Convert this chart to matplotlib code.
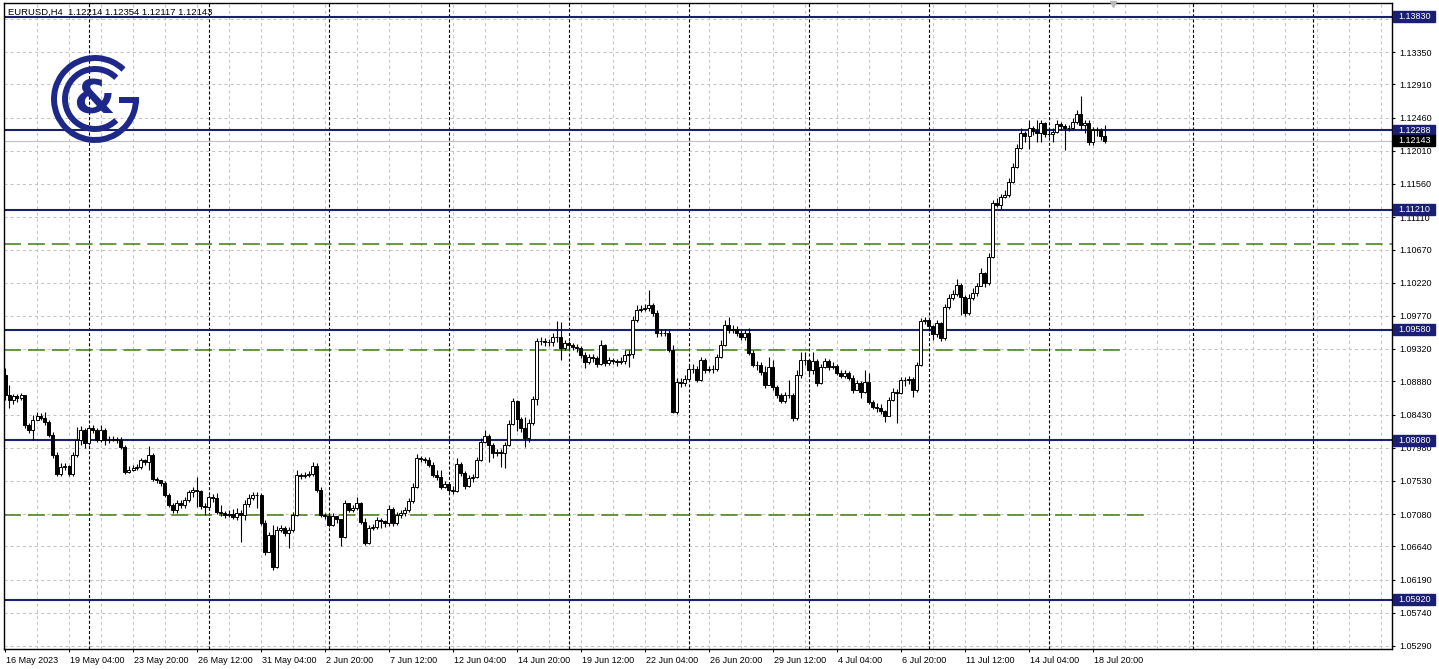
import matplotlib.pyplot as plt
from matplotlib.patches import Arc, Rectangle
import numpy as np

plt.rcParams['font.family'] = ['Liberation Sans', 'DejaVu Sans']
plt.rcParams['lines.scale_dashes'] = False

# EURUSD H4 candles, 16 May - 19 Jul 2023
symbol = "EURUSD,H4"
first_open = 1.0897
last_ohlc = (1.12214, 1.12354, 1.12117, 1.12143)

closes = [
    1.0870, 1.0863, 1.0868, 1.0866, 1.0870, 1.0829, 1.0822, 1.0836, 1.0841, 1.0838,
    1.0833, 1.0815, 1.0788, 1.0762, 1.0772, 1.0773, 1.0762, 1.0788, 1.0809, 1.0822,
    1.0804, 1.0825, 1.0822, 1.0809, 1.0822, 1.0809, 1.0809, 1.0810, 1.0809, 1.0799,
    1.0765, 1.0768, 1.0771, 1.0772, 1.0781, 1.0779, 1.0788, 1.0756, 1.0754, 1.0750,
    1.0734, 1.0720, 1.0714, 1.0723, 1.0720, 1.0727, 1.0738, 1.0741, 1.0739, 1.0719,
    1.0718, 1.0731, 1.0730, 1.0711, 1.0710, 1.0707, 1.0708, 1.0704, 1.0710, 1.0707,
    1.0722, 1.0730, 1.0734, 1.0734, 1.0696, 1.0657, 1.0680, 1.0636, 1.0686, 1.0689,
    1.0682, 1.0686, 1.0707, 1.0761, 1.0760, 1.0761, 1.0762, 1.0773, 1.0741, 1.0707,
    1.0705, 1.0693, 1.0705, 1.0701, 1.0677, 1.0723, 1.0714, 1.0716, 1.0723, 1.0697,
    1.0669, 1.0689, 1.0690, 1.0700, 1.0699, 1.0696, 1.0715, 1.0696, 1.0707, 1.0710,
    1.0714, 1.0726, 1.0745, 1.0784, 1.0783, 1.0781, 1.0775, 1.0761, 1.0758, 1.0745,
    1.0749, 1.0741, 1.0739, 1.0776, 1.0764, 1.0746, 1.0757, 1.0758, 1.0781, 1.0806,
    1.0814, 1.0802, 1.0791, 1.0792, 1.0791, 1.0802, 1.0830, 1.0861, 1.0837, 1.0825,
    1.0811, 1.0832, 1.0864, 1.0943, 1.0943, 1.0941, 1.0941, 1.0948, 1.0948, 1.0933,
    1.0940, 1.0937, 1.0935, 1.0933, 1.0924, 1.0914, 1.0921, 1.0920, 1.0912, 1.0937,
    1.0913, 1.0917, 1.0916, 1.0914, 1.0916, 1.0924, 1.0925, 1.0971, 1.0985, 1.0986,
    1.0988, 1.0992, 1.0981, 1.0954, 1.0954, 1.0954, 1.0931, 1.0846, 1.0887, 1.0886,
    1.0891, 1.0905, 1.0905, 1.0890, 1.0917, 1.0904, 1.0905, 1.0905, 1.0921, 1.0937,
    1.0965, 1.0958, 1.0959, 1.0954, 1.0948, 1.0954, 1.0927, 1.0910, 1.0910, 1.0901,
    1.0883, 1.0908, 1.0880, 1.0870, 1.0861, 1.0870, 1.0870, 1.0838, 1.0897, 1.0917,
    1.0917, 1.0903, 1.0916, 1.0886, 1.0908, 1.0916, 1.0908, 1.0909, 1.0899, 1.0895,
    1.0899, 1.0893, 1.0876, 1.0886, 1.0874, 1.0887, 1.0860, 1.0853, 1.0852, 1.0848,
    1.0841, 1.0863, 1.0874, 1.0872, 1.0890, 1.0890, 1.0891, 1.0876, 1.0910, 1.0970,
    1.0971, 1.0963, 1.0952, 1.0967, 1.0947, 1.0989, 1.1001, 1.1007, 1.1019, 1.1003,
    1.0981, 1.1001, 1.1008, 1.1018, 1.1035, 1.1022, 1.1057, 1.1130, 1.1127, 1.1138,
    1.1141, 1.1159, 1.1179, 1.1205, 1.1225, 1.1221, 1.1232, 1.1228, 1.1225, 1.1239,
    1.1224, 1.1224, 1.1227, 1.1237, 1.1235, 1.1232, 1.1232, 1.1240, 1.1251, 1.1236,
    1.1239, 1.1213, 1.1229, 1.1229, 1.1221, 1.12143,
]
highs = [
    1.0906, 1.0883, 1.0871, 1.0871, 1.0872, 1.0866, 1.0832, 1.0842, 1.0847, 1.0845,
    1.0847, 1.0836, 1.0819, 1.0792, 1.0777, 1.0777, 1.0775, 1.0792, 1.0826, 1.0828,
    1.0825, 1.0829, 1.0829, 1.0825, 1.0829, 1.0825, 1.0814, 1.0814, 1.0813, 1.0813,
    1.0802, 1.0773, 1.0775, 1.0776, 1.0784, 1.0783, 1.0800, 1.0791, 1.0758, 1.0754,
    1.0753, 1.0737, 1.0723, 1.0727, 1.0727, 1.0731, 1.0741, 1.0745, 1.0758, 1.0741,
    1.0723, 1.0734, 1.0735, 1.0737, 1.0720, 1.0712, 1.0714, 1.0715, 1.0716, 1.0714,
    1.0727, 1.0735, 1.0738, 1.0738, 1.0737, 1.0700, 1.0684, 1.0693, 1.0692, 1.0693,
    1.0692, 1.0691, 1.0711, 1.0768, 1.0764, 1.0765, 1.0766, 1.0779, 1.0777, 1.0745,
    1.0710, 1.0708, 1.0710, 1.0705, 1.0700, 1.0727, 1.0719, 1.0720, 1.0731, 1.0724,
    1.0703, 1.0693, 1.0695, 1.0704, 1.0703, 1.0700, 1.0720, 1.0718, 1.0711, 1.0714,
    1.0718, 1.0730, 1.0750, 1.0790, 1.0787, 1.0785, 1.0785, 1.0779, 1.0768, 1.0768,
    1.0753, 1.0749, 1.0746, 1.0784, 1.0779, 1.0767, 1.0761, 1.0762, 1.0785, 1.0811,
    1.0822, 1.0817, 1.0804, 1.0796, 1.0796, 1.0806, 1.0836, 1.0866, 1.0863, 1.0840,
    1.0840, 1.0837, 1.0868, 1.0947, 1.0948, 1.0947, 1.0946, 1.0954, 1.0970, 1.0969,
    1.0944, 1.0943, 1.0940, 1.0939, 1.0936, 1.0928, 1.0925, 1.0925, 1.0923, 1.0944,
    1.0939, 1.0921, 1.0920, 1.0918, 1.0921, 1.0931, 1.0931, 1.0977, 1.0992, 1.0992,
    1.0993, 1.1012, 1.0994, 1.0985, 1.0959, 1.0959, 1.0958, 1.0937, 1.0893, 1.0893,
    1.0897, 1.0910, 1.0912, 1.0909, 1.0921, 1.0920, 1.0909, 1.0910, 1.0925, 1.0944,
    1.0971, 1.0975, 1.0965, 1.0963, 1.0958, 1.0958, 1.0961, 1.0931, 1.0916, 1.0914,
    1.0909, 1.0921, 1.0917, 1.0883, 1.0872, 1.0874, 1.0890, 1.0872, 1.0903, 1.0928,
    1.0928, 1.0908, 1.0928, 1.0918, 1.0912, 1.0920, 1.0918, 1.0914, 1.0912, 1.0903,
    1.0903, 1.0902, 1.0897, 1.0890, 1.0889, 1.0903, 1.0899, 1.0863, 1.0859, 1.0857,
    1.0849, 1.0867, 1.0879, 1.0878, 1.0894, 1.0894, 1.0895, 1.0894, 1.0914, 1.0974,
    1.0975, 1.0967, 1.0965, 1.0971, 1.0969, 1.0993, 1.1007, 1.1012, 1.1027, 1.1022,
    1.1005, 1.1007, 1.1015, 1.1022, 1.1042, 1.1037, 1.1062, 1.1134, 1.1137, 1.1142,
    1.1148, 1.1164, 1.1184, 1.1210, 1.1232, 1.1228, 1.1243, 1.1235, 1.1243, 1.1243,
    1.1240, 1.1232, 1.1232, 1.1243, 1.1240, 1.1237, 1.1236, 1.1246, 1.1256, 1.1275,
    1.1243, 1.1243, 1.1233, 1.1233, 1.1232, 1.12354,
]
lows = [
    1.0863, 1.0852, 1.0857, 1.0860, 1.0863, 1.0825, 1.0818, 1.0809, 1.0836, 1.0836,
    1.0829, 1.0813, 1.0784, 1.0760, 1.0760, 1.0768, 1.0760, 1.0760, 1.0785, 1.0802,
    1.0798, 1.0802, 1.0818, 1.0806, 1.0806, 1.0802, 1.0804, 1.0807, 1.0804, 1.0796,
    1.0762, 1.0764, 1.0767, 1.0768, 1.0769, 1.0775, 1.0768, 1.0753, 1.0750, 1.0746,
    1.0731, 1.0718, 1.0709, 1.0709, 1.0716, 1.0716, 1.0724, 1.0731, 1.0718, 1.0715,
    1.0707, 1.0714, 1.0724, 1.0708, 1.0705, 1.0703, 1.0704, 1.0701, 1.0700, 1.0670,
    1.0700, 1.0718, 1.0727, 1.0716, 1.0693, 1.0653, 1.0657, 1.0632, 1.0635, 1.0684,
    1.0678, 1.0662, 1.0684, 1.0705, 1.0756, 1.0757, 1.0758, 1.0760, 1.0738, 1.0704,
    1.0701, 1.0690, 1.0692, 1.0696, 1.0665, 1.0676, 1.0711, 1.0711, 1.0714, 1.0695,
    1.0666, 1.0667, 1.0686, 1.0688, 1.0689, 1.0690, 1.0692, 1.0692, 1.0693, 1.0703,
    1.0705, 1.0711, 1.0723, 1.0743, 1.0779, 1.0777, 1.0772, 1.0758, 1.0754, 1.0742,
    1.0743, 1.0738, 1.0735, 1.0738, 1.0760, 1.0742, 1.0745, 1.0752, 1.0757, 1.0780,
    1.0804, 1.0779, 1.0784, 1.0787, 1.0772, 1.0771, 1.0800, 1.0829, 1.0821, 1.0819,
    1.0799, 1.0806, 1.0829, 1.0856, 1.0937, 1.0936, 1.0936, 1.0936, 1.0941, 1.0917,
    1.0931, 1.0932, 1.0931, 1.0928, 1.0920, 1.0906, 1.0912, 1.0914, 1.0908, 1.0910,
    1.0909, 1.0910, 1.0912, 1.0909, 1.0912, 1.0912, 1.0908, 1.0920, 1.0969, 1.0982,
    1.0984, 1.0984, 1.0977, 1.0948, 1.0950, 1.0950, 1.0928, 1.0845, 1.0844, 1.0880,
    1.0882, 1.0895, 1.0899, 1.0887, 1.0889, 1.0899, 1.0901, 1.0899, 1.0902, 1.0920,
    1.0936, 1.0954, 1.0954, 1.0950, 1.0944, 1.0944, 1.0924, 1.0908, 1.0904, 1.0897,
    1.0879, 1.0893, 1.0876, 1.0866, 1.0859, 1.0859, 1.0866, 1.0834, 1.0836, 1.0893,
    1.0910, 1.0898, 1.0898, 1.0882, 1.0885, 1.0906, 1.0903, 1.0905, 1.0897, 1.0893,
    1.0893, 1.0890, 1.0872, 1.0876, 1.0866, 1.0872, 1.0857, 1.0851, 1.0847, 1.0844,
    1.0833, 1.0841, 1.0861, 1.0832, 1.0871, 1.0882, 1.0885, 1.0867, 1.0874, 1.0909,
    1.0966, 1.0956, 1.0944, 1.0948, 1.0943, 1.0944, 1.0986, 1.0999, 1.1004, 1.0978,
    1.0977, 1.0978, 1.0999, 1.1004, 1.1018, 1.1016, 1.1019, 1.1055, 1.1125, 1.1122,
    1.1137, 1.1138, 1.1157, 1.1178, 1.1203, 1.1213, 1.1203, 1.1222, 1.1213, 1.1213,
    1.1220, 1.1220, 1.1213, 1.1225, 1.1229, 1.1202, 1.1228, 1.1229, 1.1237, 1.1229,
    1.1225, 1.1209, 1.1209, 1.1221, 1.1216, 1.12117,
]

x_labels = ["16 May 2023", "19 May 04:00", "23 May 20:00", "26 May 12:00",
            "31 May 04:00", "2 Jun 20:00", "7 Jun 12:00", "12 Jun 04:00",
            "14 Jun 20:00", "19 Jun 12:00", "22 Jun 04:00", "26 Jun 20:00",
            "29 Jun 12:00", "4 Jul 04:00", "6 Jul 20:00", "11 Jul 12:00",
            "14 Jul 04:00", "18 Jul 20:00"]
y_grid = [1.13800, 1.13350, 1.12910, 1.12460, 1.12010, 1.11560, 1.11110, 1.10670,
          1.10220, 1.09770, 1.09320, 1.08880, 1.08430, 1.07980, 1.07530,
          1.07080, 1.06640, 1.06190, 1.05740, 1.05290]
y_ticks = y_grid[1:]                   # 1.13800 label sits under the level box
levels = [1.13830, 1.12288, 1.11210, 1.09580, 1.08080, 1.05920]
dashed_levels = [1.10745, 1.09307, 1.07068]
dashed_ends = [347, 279, 285]          # bar where each green line stops
week_starts = [21, 51, 81, 111, 141, 171, 201, 231, 261, 297, 327]

NAVY = '#1a1f71'
LOGO = '#1e2888'
GREEN = '#3f7d12'
GRID = '#c4c4c4'

c = np.array(closes)
o = np.r_[first_open, c[:-1]]
o[-1] = last_ohlc[0]
h = np.maximum.reduce([np.array(highs), o, c])
l = np.minimum.reduce([np.array(lows), o, c])
idx = np.arange(len(c))

W, H = 1439, 669
fig = plt.figure(figsize=(W / 100, H / 100), dpi=100)
ax = fig.add_axes([4 / W, 1 - 649 / H, 1388 / W, 646 / H])
ax.set_xlim(-0.25, 346.75)
ax.set_ylim(1.05249, 1.14015)

# grid + week separators
for k in np.arange(8, 347, 8):
    ax.axvline(k, color=GRID, lw=0.75, ls=(0, (2.2, 2.2)), zorder=0)
for y in y_grid:
    ax.axhline(y, color=GRID, lw=0.75, ls=(0, (2.2, 2.2)), zorder=0)
for k in week_starts:
    ax.axvline(k, color='black', lw=0.8, ls=(0, (2.2, 1.5)), zorder=1)

# support/resistance levels
for lv, end in zip(dashed_levels, dashed_ends):
    ax.hlines(lv, -0.25, end, color=GREEN, lw=1.1, ls=(0, (12.2, 5)), zorder=2)
for lv in levels:
    ax.axhline(lv, color=NAVY, lw=1.5, zorder=2)
ax.axhline(last_ohlc[3], color='#c0c0c0', lw=0.8, zorder=1.5)

# candles
ax.vlines(idx, l, h, color='black', lw=0.8, zorder=3)
up = c >= o
ax.bar(idx, np.abs(c - o), bottom=np.minimum(o, c), width=0.75,
       color=np.where(up, 'white', 'black'), edgecolor='black', linewidth=0.7, zorder=4)

# axes styling
for s in ax.spines.values():
    s.set_color('black')
    s.set_linewidth(1.0)
ax.yaxis.tick_right()
ax.set_yticks(y_ticks)
ax.set_yticklabels([f"{v:.5f}" for v in y_ticks])
ax.tick_params(axis='y', length=2.5, pad=2.5, labelsize=6.5, width=0.8)
ax.set_xticks(np.arange(0, 16 * len(x_labels), 16))
ax.set_xticklabels([])
ax.tick_params(axis='x', length=2.5, width=0.8)
for j, lab in enumerate(x_labels):
    ax.text(16 * j + 0.2, -0.0175, lab, transform=ax.get_xaxis_transform(),
            ha='left', va='center', fontsize=6.5)

# price boxes on the right scale
bx = ax.get_yaxis_transform()
half = 5.5 / 7370
for lv, fc in [(lv, NAVY) for lv in levels] + [(last_ohlc[3], 'black')]:
    ax.add_patch(Rectangle((1.0006, lv - half), 0.0303, 2 * half, transform=bx,
                           facecolor=fc, edgecolor=fc, clip_on=False, zorder=6))
    ax.text(1.0046, lv, f"{lv:.5f}", transform=bx, color='white', fontsize=6.5,
            ha='left', va='center', zorder=7, clip_on=False)

# chart shift marker
ax.plot(len(c) + 1, 1.13995, marker='v', color='#b8b8b8', markersize=4.5,
        clip_on=False, zorder=5)

fig.text(8 / W, 1 - 12 / H, f"{symbol}  " + " ".join(f"{v:.5f}" for v in last_ohlc),
         fontsize=6.8, va='center', ha='left')

# logo
lg = fig.add_axes([40 / W, 1 - 155 / H, 110 / W, 110 / H])
lg.set_xlim(40, 150)
lg.set_ylim(-155, -45)
lg.axis('off')
lg.add_patch(Arc((95, -99), 82, 82, theta1=46, theta2=360, lw=4.3, color=LOGO))
lg.add_patch(Arc((95, -99), 60, 60, theta1=45, theta2=315, lw=4.3, color=LOGO))
lg.plot([119, 138.5], [-99.5, -99.5], color=LOGO, lw=4.3, solid_capstyle='butt')
lg.text(94, -101, '&', fontsize=34, fontweight='bold', color=LOGO,
        ha='center', va='center', family='DejaVu Sans')

fig.savefig('out.png', dpi=100)
